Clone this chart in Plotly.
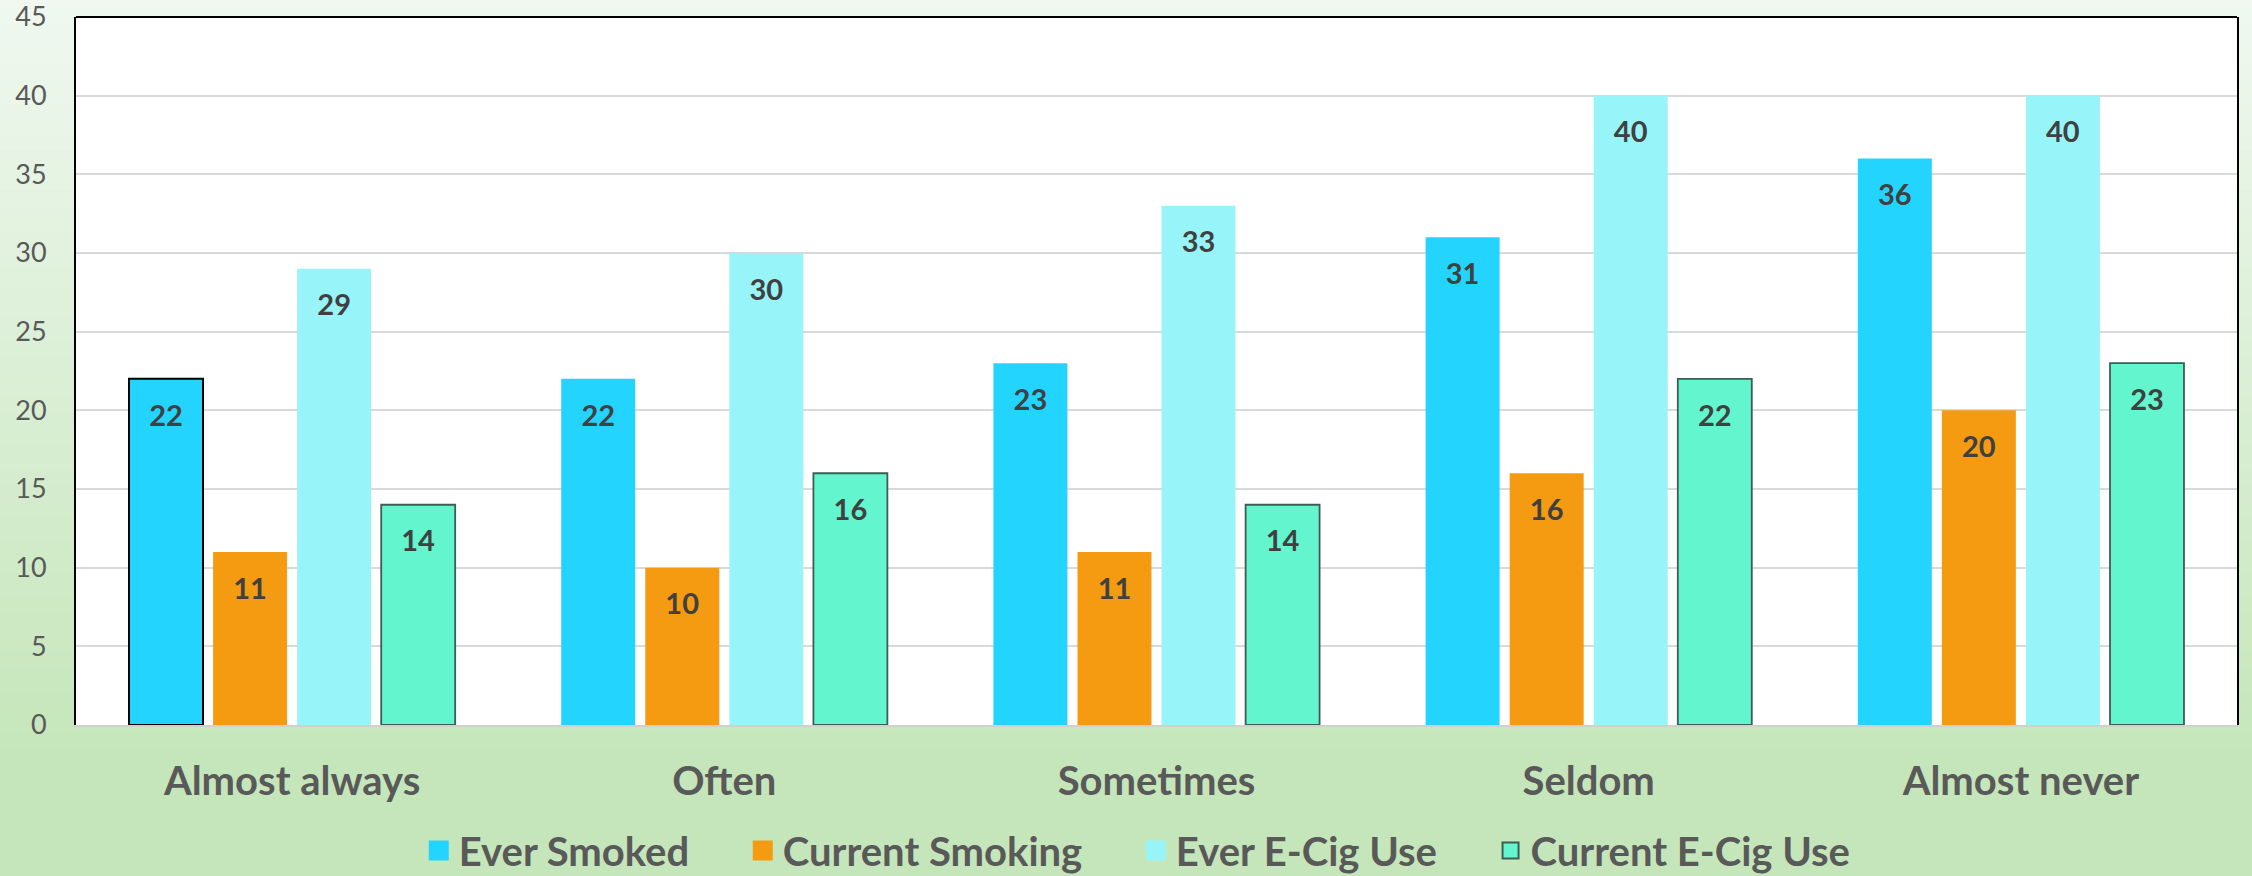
import plotly.graph_objects as go

categories = ["Almost always", "Often", "Sometimes", "Seldom", "Almost never"]
ever_smoked = [22, 22, 23, 31, 36]
current_smoking = [11, 10, 11, 16, 20]
ever_ecig = [29, 30, 33, 40, 40]
current_ecig = [14, 16, 14, 22, 23]
y_ticks = [0, 5, 10, 15, 20, 25, 30, 35, 40, 45]

FONT = "Lato"
TXT = "#404040"
LBL = "#595959"
CLEAR = "rgba(0,0,0,0)"

series = [
    ("Ever Smoked", ever_smoked, "#22D4FE",
     dict(color=["#000000", CLEAR, CLEAR, CLEAR, CLEAR], width=[2, 0, 0, 0, 0]), None),
    ("Current Smoking", current_smoking, "#F59B12", dict(width=0), None),
    ("Ever E-Cig Use", ever_ecig, "#97F5F9", dict(width=0), None),
    ("Current E-Cig Use", current_ecig, "#62F5CE", dict(color="#3E5C54", width=1.8), "#3E5C54"),
]

W, H = 2252, 876
M_L, M_R, M_T, M_B = 76, 15, 17, 151
PLOT_H = H - M_T - M_B

fig = go.Figure()
for name, vals, col, line, edge in series:
    fig.add_trace(go.Bar(
        x=categories, y=vals, name=name, showlegend=False,
        marker=dict(color=col, line=line),
        texttemplate="<span style='font-size:6px'>&nbsp;</span><br>%{y}",
        textposition="inside", insidetextanchor="end", textangle=0,
        constraintext="none",
        textfont=dict(family=FONT, size=29, color=TXT, weight="bold"),
        hoverinfo="skip",
    ))

# legend-only entries with larger square swatches
for i, (name, vals, col, line, edge) in enumerate(series):
    label = name + ("\u00a0" * 5 if i < len(series) - 1 else "")
    mline = dict(color=edge, width=2) if edge else dict(color=col, width=4)
    msize = 18 if edge else 16
    fig.add_trace(go.Scatter(
        x=[None], y=[None], mode="markers", name=label, showlegend=True,
        marker=dict(symbol="square", size=msize, color=col, line=mline),
        hoverinfo="skip",
    ))

# gradient background strips (pixel -> paper coordinates)
def lerp(c1, c2, t):
    return tuple(round(a + (b - a) * t) for a, b in zip(c1, c2))

def px_to_paper(p):
    return (H - M_B - p) / PLOT_H

top_c = (0xF0, 0xF8, 0xF0)
bot_c = (0xC5, 0xE6, 0xBA)
end_px = 760
n = 110
shapes = []
for i in range(n):
    p0 = i * H / n
    p1 = (i + 1) * H / n
    t = min(((p0 + p1) / 2) / end_px, 1.0)
    c = lerp(top_c, bot_c, t)
    shapes.append(dict(type="rect", xref="paper", yref="paper",
                       x0=-0.1, x1=1.1, y0=px_to_paper(p1 + 0.5), y1=px_to_paper(p0),
                       fillcolor="rgb(%d,%d,%d)" % c, line=dict(width=0), layer="below"))
# white plot area
shapes.append(dict(type="rect", xref="x domain", yref="y domain", x0=0, x1=1, y0=0, y1=1,
                   fillcolor="white", line=dict(width=0), layer="below"))
# top border of plot area
shapes.append(dict(type="line", xref="paper", yref="paper", x0=0, x1=1, y0=1, y1=1,
                   line=dict(color="#000000", width=2), layer="above"))

fig.update_layout(
    width=W, height=H,
    margin=dict(l=M_L, r=M_R, t=M_T, b=M_B, autoexpand=False),
    paper_bgcolor="#C5E6BA", plot_bgcolor="white",
    barmode="group", bargap=0.222, bargroupgap=0.12,
    shapes=shapes,
    showlegend=True,
    legend=dict(orientation="h", x=0.505, xanchor="center", xref="container",
                y=0.029, yanchor="middle", yref="container",
                font=dict(family=FONT, size=40, color=LBL, weight="bold"),
                bgcolor="rgba(0,0,0,0)", traceorder="normal", itemsizing="trace"),
    xaxis=dict(showgrid=False, showline=True, linecolor="#D0D0D0", linewidth=2,
               tickfont=dict(family=FONT, size=40, color=LBL, weight="bold"),
               ticks="", ticklabelstandoff=20, automargin=False),
    yaxis=dict(range=[0, 45], tickvals=y_ticks, showgrid=True, gridcolor="#D9D9D9", gridwidth=2,
               showline=True, linecolor="#000000", linewidth=2, mirror=True,
               zeroline=False, ticks="", automargin=False, ticklabeloverflow="allow",
               tickfont=dict(family=FONT, size=27, color=LBL), ticklabelstandoff=22),
    font=dict(family=FONT),
)

fig.write_html("out.html")
